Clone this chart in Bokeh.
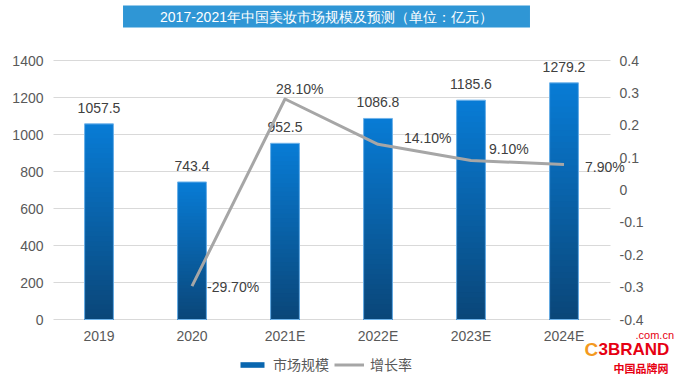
from bokeh.plotting import figure
from bokeh.models import (ColumnDataSource, Range1d, LinearAxis, FixedTicker, Label,
                          Legend, LegendItem, Grid)
from bokeh.embed import file_html
from bokeh.resources import INLINE
from bokeh.core.properties import value

# ---- data ----
years = ["2019", "2020", "2021E", "2022E", "2023E", "2024E"]
market = [1057.5, 743.4, 952.5, 1086.8, 1185.6, 1279.2]
rate_years = ["2020", "2021E", "2022E", "2023E", "2024E"]
rate = [-0.297, 0.281, 0.141, 0.091, 0.079]
rate_labels = ["-29.70%", "28.10%", "14.10%", "9.10%", "7.90%"]
left_ticks = [0, 200, 400, 600, 800, 1000, 1200, 1400]
right_ticks = [-0.4, -0.3, -0.2, -0.1, 0.0, 0.1, 0.2, 0.3, 0.4]
right_tick_labels = ["-0.4", "-0.3", "-0.2", "-0.1", "0", "0.1", "0.2", "0.3", "0.4"]
title_text = "2017-2021年中国美妆市场规模及预测（单位：亿元）"
series_names = ["市场规模", "增长率"]

# ---- layout / style constants (pixels) ----
W, H = 675, 374
FRAME_LEFT = 53          # left axis panel width
CAT0_PX = 52             # pixel where category axis starts
CAT_PX = 93              # pixel width of one category
Y_TOP_PX, Y_ZERO_PX = 60, 319   # pixel rows of the top and bottom of the value scale
rate_label_dx = [15, -9, 26, 18, 21]
rate_label_dy = [1, -10, -6, -12, 3]
FONT = "Liberation Sans"
CJK = "Noto Sans CJK SC"
FS = "14px"

# category positions
xs = [i + 0.5 for i in range(len(years))]
xpos = dict(zip(years, xs))
rate_x = [xpos[y] for y in rate_years]

# scales: frame covers the canvas to the right of the left axis
x_start = (FRAME_LEFT - CAT0_PX) / CAT_PX
x_end = x_start + (W - FRAME_LEFT) / CAT_PX
ymax, rmin, rmax = left_ticks[-1], right_ticks[0], right_ticks[-1]
ppu = (Y_ZERO_PX - Y_TOP_PX) / ymax
y_end = ymax + Y_TOP_PX / ppu
y_start = -(H - Y_ZERO_PX) / ppu
rppu = (Y_ZERO_PX - Y_TOP_PX) / (rmax - rmin)
r_end = rmax + Y_TOP_PX / rppu
r_start = rmin - (H - Y_ZERO_PX) / rppu

p = figure(width=W, height=H, x_range=Range1d(x_start, x_end), y_range=Range1d(y_start, y_end),
           output_backend="svg", toolbar_location=None,
           min_border_left=FRAME_LEFT, min_border_right=0, min_border_top=0, min_border_bottom=0)
p.outline_line_color = None
p.background_fill_color = "white"
p.border_fill_color = "white"
p.extra_y_ranges = {"rate": Range1d(r_start, r_end)}

# grid
p.xgrid.visible = False
p.ygrid.ticker = FixedTicker(ticks=left_ticks)
p.ygrid.grid_line_color = "#d9d9d9"
if "cross_bounds" in Grid.properties():
    p.ygrid.cross_bounds = (0, len(years))
else:
    p.ygrid.visible = False
    p.segment(x0=0, x1=len(years), y0=left_ticks, y1=left_ticks, line_color="#d9d9d9",
              line_width=1, level="underlay")

# gradient bars: overlapping vbars from 0 to fractions of each value
N = 40
top_rgb = (8, 124, 214)
bot_rgb = (10, 70, 120)
bar_w = 0.31
slice_renderers = []
for k in range(N - 1, -1, -1):
    f = (k + 0.5) / N
    c = tuple(int(round(bot_rgb[i] + (top_rgb[i] - bot_rgb[i]) * f)) for i in range(3))
    col = "#%02x%02x%02x" % c
    tops = [v * (k + 1) / N for v in market]
    r = p.vbar(x=xs, top=tops, bottom=0, width=bar_w, fill_color=col, line_color=None)
    slice_renderers.append((f, r))
p.vbar(x=xs, top=market, bottom=0, width=bar_w, fill_alpha=0, line_color="#6fb3ea", line_width=1)
legend_bar = min(slice_renderers, key=lambda t: abs(t[0] - 0.6))[1]

# bar value labels
p.text(x=xs, y=market, text=["%.1f" % v for v in market], text_align="center",
       text_baseline="middle", y_offset=-16, text_font=value(FONT), text_font_size=FS,
       text_color="#404040")

# growth line
line_r = p.line(x=rate_x, y=rate, y_range_name="rate", line_color="#a6a6a6",
                line_width=3, line_join="round")
src = ColumnDataSource(dict(x=rate_x, y=rate, t=rate_labels, dx=rate_label_dx, dy=rate_label_dy))
p.text(x="x", y="y", text="t", source=src, y_range_name="rate", x_offset="dx", y_offset="dy",
       text_align="left", text_baseline="middle", text_font=value(FONT),
       text_font_size=FS, text_color="#404040")

# axes
ax_l = p.yaxis[0]
ax_l.ticker = FixedTicker(ticks=left_ticks)
ax_l.major_label_standoff = 10

ax_x = p.xaxis[0]
ax_x.fixed_location = 0
ax_x.ticker = FixedTicker(ticks=xs)
ax_x.major_label_overrides = {x: y for x, y in zip(xs, years)}
ax_x.major_label_standoff = 8

ax_r = LinearAxis(y_range_name="rate", ticker=FixedTicker(ticks=right_ticks),
                  fixed_location=len(years),
                  major_label_overrides={t: l for t, l in zip(right_ticks, right_tick_labels)})
ax_r.major_label_standoff = 9
p.add_layout(ax_r, "right")

for ax in [ax_x, ax_l, ax_r]:
    ax.axis_line_color = None
    ax.major_tick_line_color = None
    ax.minor_tick_line_color = None
    ax.major_tick_out = 0
    ax.major_tick_in = 0
    ax.minor_tick_out = 0
    ax.major_label_text_font = FONT
    ax.major_label_text_font_size = FS
    ax.major_label_text_color = "#595959"

# legend (location relative to the frame's bottom-left corner)
legend = Legend(items=[LegendItem(label=series_names[0], renderers=[legend_bar]),
                       LegendItem(label=series_names[1], renderers=[line_r])],
                orientation="horizontal", location=(184, 0),
                label_text_font=CJK, label_text_font_size=FS, label_text_color="#595959",
                glyph_width=30, glyph_height=7, label_height=16, label_standoff=6, spacing=5,
                padding=3, margin=0, border_line_color=None, background_fill_alpha=0)
p.add_layout(legend)

# title box
p.add_layout(Label(x=326 - FRAME_LEFT, y=H - 16, x_units="screen", y_units="screen",
                   text=title_text, text_align="center", text_baseline="middle",
                   text_font=FONT, text_font_size="14px", text_color="white",
                   background_fill_color="#2f96d5", padding=(37, 3)))

# watermark logo
p.add_layout(Label(x=635 - FRAME_LEFT, y=H - 334, x_units="screen", y_units="screen",
                   text=".com.cn", text_font=FONT, text_font_size="11px",
                   text_color="#e60012", text_baseline="middle"))
p.add_layout(Label(x=584 - FRAME_LEFT, y=H - 349, x_units="screen", y_units="screen",
                   text="C", text_font=FONT, text_font_size="19px", text_font_style="bold",
                   text_color="#f39a1e", text_baseline="middle"))
p.add_layout(Label(x=598 - FRAME_LEFT, y=H - 349, x_units="screen", y_units="screen",
                   text="3BRAND", text_font=FONT, text_font_size="17px", text_font_style="bold",
                   text_color="#e60012", text_baseline="middle"))
p.add_layout(Label(x=613 - FRAME_LEFT, y=H - 367, x_units="screen", y_units="screen",
                   text="中国品牌网", text_font=CJK, text_font_size="11px",
                   text_font_style="bold", text_color="#e60012", text_baseline="middle"))

open("out.html", "w").write(file_html(p, INLINE))
